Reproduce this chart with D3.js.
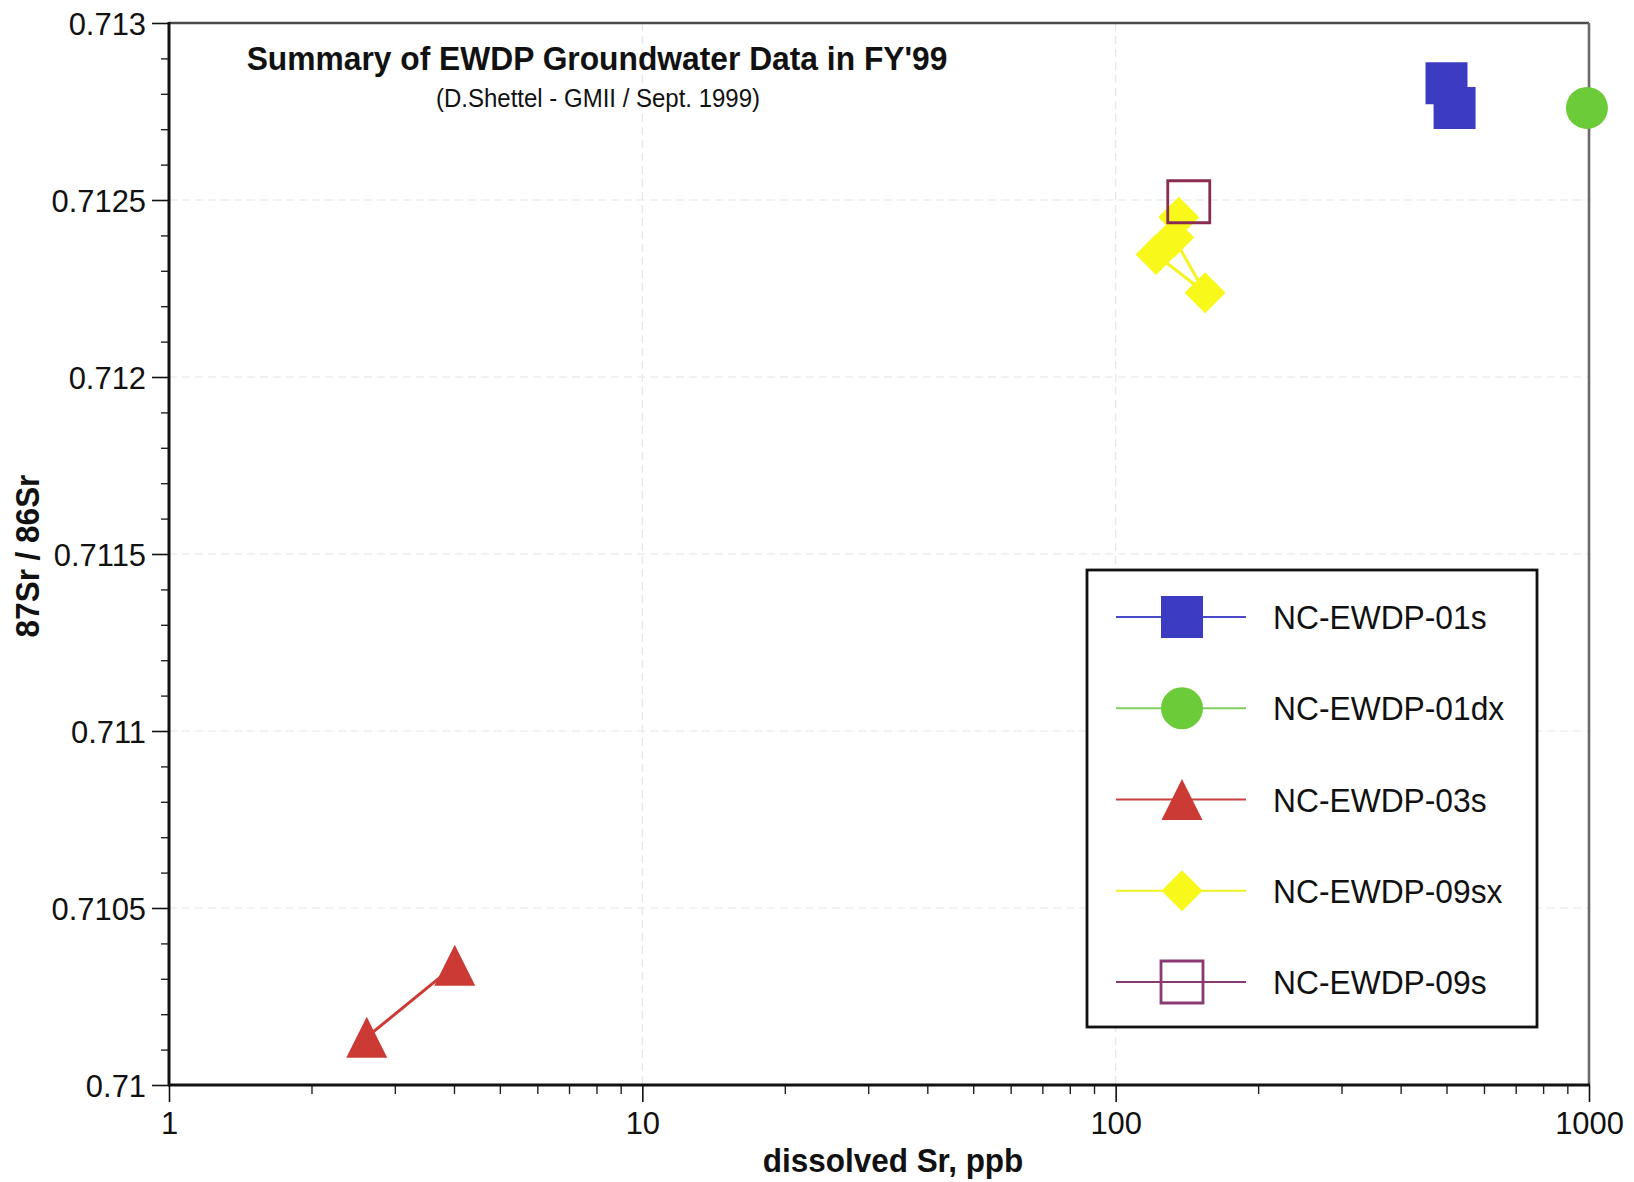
<!DOCTYPE html>
<html>
<head>
<meta charset="utf-8">
<script src="https://cdn.jsdelivr.net/npm/d3@7"></script>
<style>
  html, body { margin: 0; padding: 0; background: #fff; }
  svg { display: block; }
  text { font-family: "Liberation Sans", Arial, Helvetica, sans-serif; fill: #111; }
</style>
</head>
<body>
<svg id="chart" width="1634" height="1182"></svg>
<script>
// Axis ticks and labels
const xTicks = [1, 10, 100, 1000];
const xTickLabels = ["1", "10", "100", "1000"];
const yTicks = [0.71, 0.7105, 0.711, 0.7115, 0.712, 0.7125, 0.713];
const yTickLabels = ["0.71", "0.7105", "0.711", "0.7115", "0.712", "0.7125", "0.713"];

// Series: dissolved Sr (ppb) and 87Sr/86Sr
const seriesNames = ["NC-EWDP-01s", "NC-EWDP-01dx", "NC-EWDP-03s", "NC-EWDP-09sx", "NC-EWDP-09s"];
const srEWDP01s  = [500, 520];
const ratioEWDP01s  = [0.71283, 0.71276];
const srEWDP01dx = [990];
const ratioEWDP01dx = [0.71276];
const srEWDP03s  = [4.015, 2.617];
const ratioEWDP03s  = [0.710338, 0.710135];
const srEWDP09sx = [135.9, 121.7, 154.5, 132.6];
const ratioEWDP09sx = [0.712451, 0.712346, 0.712238, 0.712394];
const srEWDP09s  = [142.7];
const ratioEWDP09s  = [0.712495];

const titleText = "Summary of EWDP Groundwater Data in FY'99";
const subtitleText = "(D.Shettel - GMII / Sept. 1999)";
const xLabel = "dissolved Sr, ppb";
const yLabel = "87Sr / 86Sr";

const seriesX = [srEWDP01s, srEWDP01dx, srEWDP03s, srEWDP09sx, srEWDP09s];
const seriesY = [ratioEWDP01s, ratioEWDP01dx, ratioEWDP03s, ratioEWDP09sx, ratioEWDP09s];

// Styling
const markerFill = ["#3c3cc2", "#6ccb38", "#cc3a35", "#f8f81a", "none"];
const markerStroke = ["none", "none", "none", "none", "#8a2c52"];
const lineColor = ["#3c3cc2", "#6ccb38", "#cc3a35", "#f4f41c", "#8a2c52"];
const legendLineColor = ["#4a4ac8", "#80d060", "#c84040", "#f0f020", "#8a3a72"];
const markerShape = ["square", "circle", "triangle", "diamond", "square"];

const SX = 0.96; // horizontal scaling of the lettering

const svg = d3.select("#chart");
const plotLeft = 169, plotRight = 1589, plotTop = 23, plotBottom = 1085;

const x = d3.scaleLog().domain([1, 1000]).range([plotLeft, plotRight]);
const y = d3.scaleLinear().domain([0.71, 0.713]).range([plotBottom, plotTop]);

function markerPath(shape) {
  const p = d3.path();
  if (shape === "square") {
    const h = 21; p.rect(-h, -h, 2 * h, 2 * h);
  } else if (shape === "circle") {
    p.arc(0, 0, 21, 0, 2 * Math.PI);
  } else if (shape === "triangle") {
    const h = 20.5; p.moveTo(0, -h); p.lineTo(h, h); p.lineTo(-h, h); p.closePath();
  } else if (shape === "diamond") {
    const h = 20.5; p.moveTo(0, -h); p.lineTo(h, 0); p.lineTo(0, h); p.lineTo(-h, 0); p.closePath();
  }
  return p.toString();
}

function label(g, px, py, str, size, anchor, weight, extra) {
  return g.append("text")
    .attr("transform", `translate(${px},${py})${extra || ""} scale(${SX},1)`)
    .attr("text-anchor", anchor)
    .style("font-size", size + "px")
    .style("font-weight", weight || "normal")
    .text(str);
}

// Gridlines
const grid = svg.append("g");
grid.selectAll("line.gy").data(yTicks.filter(v => v > 0.71 && v < 0.713)).enter()
  .append("line")
  .attr("x1", plotLeft).attr("x2", plotRight)
  .attr("y1", d => y(d)).attr("y2", d => y(d))
  .attr("stroke", "#e6e6e6").attr("stroke-width", 1.2).attr("stroke-dasharray", "8,5");
grid.selectAll("line.gx").data(xTicks.filter(v => v > 1 && v < 1000)).enter()
  .append("line")
  .attr("y1", plotTop).attr("y2", plotBottom)
  .attr("x1", d => x(d)).attr("x2", d => x(d))
  .attr("stroke", "#e6e6e6").attr("stroke-width", 1.2).attr("stroke-dasharray", "8,5");

// Minor ticks
const xMinor = [];
[1, 10, 100].forEach(dec => { for (let k = 2; k <= 9; k++) xMinor.push(dec * k); });
const yMinor = d3.range(0, 31).map(i => 0.71 + i * 0.0001).filter((v, i) => i % 5 !== 0);

const xMinorAxis = svg.append("g").attr("transform", `translate(0,${plotBottom})`)
  .call(d3.axisBottom(x).tickValues(xMinor).tickSize(9).tickFormat(""));
const yMinorAxis = svg.append("g").attr("transform", `translate(${plotLeft},0)`)
  .call(d3.axisLeft(y).tickValues(yMinor).tickSize(8).tickFormat(""));
[xMinorAxis, yMinorAxis].forEach(a => {
  a.select(".domain").remove();
  a.selectAll("line").attr("stroke", "#222").attr("stroke-width", 1.4);
});

// Major ticks with labels
const xAxis = svg.append("g").attr("transform", `translate(0,${plotBottom})`)
  .call(d3.axisBottom(x).tickValues(xTicks).tickSize(17).tickPadding(9)
    .tickFormat((d, i) => xTickLabels[i]));
const yAxis = svg.append("g").attr("transform", `translate(${plotLeft},0)`)
  .call(d3.axisLeft(y).tickValues(yTicks).tickSize(17).tickPadding(6)
    .tickFormat((d, i) => yTickLabels[i]));
[xAxis, yAxis].forEach(a => {
  a.select(".domain").remove();
  a.selectAll("line").attr("stroke", "#111").attr("stroke-width", 1.6);
  a.selectAll("text")
    .style("font-family", '"Liberation Sans", Arial, Helvetica, sans-serif')
    .style("font-size", "32.2px").attr("fill", "#111");
});
xAxis.selectAll("text").attr("transform", `scale(${SX},1)`)
  .attr("x", 0);
yAxis.selectAll("text").attr("transform", `scale(${SX},1)`)
  .attr("x", -23 / SX).attr("dy", "0.35em");

// Frame
svg.append("line").attr("x1", plotLeft).attr("x2", plotRight).attr("y1", plotTop).attr("y2", plotTop)
  .attr("stroke", "#4a4a4a").attr("stroke-width", 2.6);
svg.append("line").attr("x1", plotRight).attr("x2", plotRight).attr("y1", plotTop).attr("y2", plotBottom)
  .attr("stroke", "#6a6a6a").attr("stroke-width", 2.6);
svg.append("line").attr("x1", plotLeft).attr("x2", plotLeft).attr("y1", plotTop - 1).attr("y2", plotBottom + 1)
  .attr("stroke", "#111").attr("stroke-width", 3);
svg.append("line").attr("x1", plotLeft - 1).attr("x2", plotRight + 1).attr("y1", plotBottom).attr("y2", plotBottom)
  .attr("stroke", "#111").attr("stroke-width", 3);

// Series lines and markers
const lineGen = d3.line().x(d => x(d[0])).y(d => y(d[1]));
const plot = svg.append("g");
seriesNames.forEach((name, i) => {
  const pts = seriesX[i].map((v, j) => [v, seriesY[i][j]]);
  if (pts.length > 1) {
    plot.append("path").datum(pts).attr("d", lineGen)
      .attr("fill", "none").attr("stroke", lineColor[i]).attr("stroke-width", 3);
  }
  plot.selectAll(null).data(pts).enter().append("path")
    .attr("transform", d => `translate(${x(d[0])},${y(d[1])})`)
    .attr("d", markerPath(markerShape[i]))
    .attr("fill", markerFill[i])
    .attr("stroke", markerStroke[i])
    .attr("stroke-width", markerStroke[i] === "none" ? 0 : 2.8);
});

// Titles
label(svg, 597, 70, titleText, 33.1, "middle", "bold");
label(svg, 598, 107, subtitleText, 25, "middle", "normal");

// Axis titles
label(svg, 893, 1172, xLabel, 32.8, "middle", "bold");
label(svg, 39, 556, yLabel, 32.8, "middle", "bold", " rotate(-90)");

// Legend
const lg = svg.append("g");
lg.append("rect").attr("x", 1087).attr("y", 570).attr("width", 450).attr("height", 457)
  .attr("fill", "#fff").attr("stroke", "#111").attr("stroke-width", 2.8);
const legendY = d3.scalePoint().domain(seriesNames).range([617, 982]);
seriesNames.forEach((name, i) => {
  const ly = legendY(name);
  lg.append("line").attr("x1", 1116).attr("x2", 1246).attr("y1", ly).attr("y2", ly)
    .attr("stroke", legendLineColor[i]).attr("stroke-width", 1.8);
  lg.append("path").attr("transform", `translate(1182,${ly})`)
    .attr("d", markerPath(markerShape[i]))
    .attr("fill", markerFill[i])
    .attr("stroke", markerStroke[i] === "none" ? "none" : legendLineColor[i])
    .attr("stroke-width", markerStroke[i] === "none" ? 0 : 2.8);
  label(lg, 1273, ly + 12, name, 33.1, "start", "normal");
});
</script>
</body>
</html>
